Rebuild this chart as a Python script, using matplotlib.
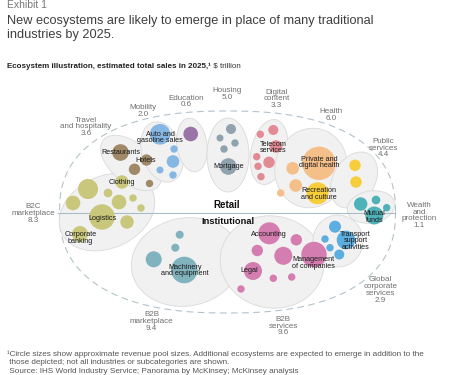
import numpy as np
import matplotlib.pyplot as plt
from matplotlib.patches import Circle, Ellipse

plt.rcParams['font.family'] = ['Liberation Sans', 'DejaVu Sans']

# bubble groups: centre x, centre y (pixels of the 450x375 canvas), radius
b2c_x = [88, 108, 122, 73, 119, 133, 141, 102, 127, 80]
b2c_y = [189, 193, 182, 203, 202, 198, 208, 217, 222, 234]
b2c_r = [10, 4.3, 6.7, 7.3, 7.3, 3.7, 3.7, 12.7, 6.7, 8]

travel_x = [120.5, 146.5, 134.5, 149.5]
travel_y = [152.5, 160, 169.3, 183.5]
travel_r = [8.3, 5.7, 5.7, 3.7]

mobility_x = [160, 174, 173, 160, 173]
mobility_y = [134.3, 149, 161.5, 170, 175]
mobility_r = [10.3, 3.7, 6.3, 3.5, 3.7]

education_x = [190.7]
education_y = [134]
education_r = [7.3]

housing_x = [231, 220, 235, 224, 228.3]
housing_y = [129, 138, 143, 149, 166.5]
housing_r = [5, 3.5, 3.7, 3.7, 8.3]

telecom_x = [273.3, 260.3, 276, 256.7, 269, 258, 261]
telecom_y = [130, 134.3, 146.5, 156.7, 162.3, 166.3, 176.7]
telecom_r = [5, 3.7, 6.3, 3.7, 5.7, 3.7, 3.7]

health_x = [319, 292.7, 295.7, 280.7]
health_y = [163.3, 168.3, 185.5, 193]
health_r = [16.7, 6.3, 6.3, 3.7]

yellow_x = [317.5, 355, 356]
yellow_y = [193.3, 165.3, 182]
yellow_r = [11, 5.7, 5.7]

wealth_x = [360.7, 376, 386.7, 374.3]
wealth_y = [204, 200, 207.7, 215.5]
wealth_r = [6.7, 4.3, 3.7, 9]

transport_x = [335, 325, 330, 339.3, 346]
transport_y = [226.7, 239, 247.7, 254.5, 240]
transport_r = [6, 3.7, 3.7, 5, 9.3]

services_x = [269.3, 296.3, 257.3, 283.3, 314, 253, 273.3, 291.7, 241]
services_y = [233.3, 239.8, 250.5, 255.8, 254.5, 271, 278.3, 277, 289]
services_r = [11, 5.7, 5.7, 9, 12.7, 9, 3.7, 3.7, 3.7]

machinery_x = [179.7, 175.3, 153.7, 184.3]
machinery_y = [234.7, 247.7, 259.3, 270]
machinery_r = [4, 4, 8, 13.3]

groups = [
    (b2c_x, b2c_y, b2c_r, '#c8c77c'),
    (travel_x, travel_y, travel_r, '#a08966'),
    (mobility_x, mobility_y, mobility_r, '#86b7e2'),
    (education_x, education_y, education_r, '#9a73a7'),
    (housing_x, housing_y, housing_r, '#8fa2ad'),
    (telecom_x, telecom_y, telecom_r, '#e28b94'),
    (health_x, health_y, health_r, '#f5bf8a'),
    (yellow_x, yellow_y, yellow_r, '#f7cd3c'),
    (wealth_x, wealth_y, wealth_r, '#4fb2b8'),
    (transport_x, transport_y, transport_r, '#5caee0'),
    (services_x, services_y, services_r, '#d47db1'),
    (machinery_x, machinery_y, machinery_r, '#80b3bd'),
]

ecosystems = ['Travel\nand hospitality\n3.6', 'Mobility\n2.0', 'Education\n0.6', 'Housing\n5.0',
              'Digital\ncontent\n3.3', 'Health\n6.0', 'Public\nservices\n4.4',
              'Wealth\nand\nprotection\n1.1', 'Global\ncorporate\nservices\n2.9',
              'B2B\nservices\n9.6', 'B2B\nmarketplace\n9.4', 'B2C\nmarketplace\n8.3']
eco_pos = [(86, 127), (143, 111), (186, 101.5), (227, 94), (276.7, 99), (330.7, 115),
           (383, 148), (419, 215.5), (380.5, 290), (283.3, 326), (151.7, 321.7), (33.3, 213.3)]

industries = ['Auto and\ngasoline sales', 'Restaurants', 'Hotels', 'Clothing', 'Mortgage',
              'Telecom\nservices', 'Private and\ndigital health', 'Recreation\nand culture',
              'Mutual\nfunds', 'Transport\nsupport\nactivities', 'Accounting',
              'Management\nof companies', 'Legal', 'Logistics', 'Corporate\nbanking',
              'Machinery\nand equipment']
ind_pos = [(160.3, 137.3), (120.7, 152.3), (146, 160), (122, 182), (228.3, 166.3),
           (273.3, 147.7), (319.3, 162.5), (319.3, 194), (374.3, 217), (355.7, 241),
           (268.7, 234.7), (313.7, 263.2), (249.3, 271), (102.3, 218.7), (80.3, 238.2),
           (185, 270.5)]

title_lines = ['New ecosystems are likely to emerge in place of many traditional',
               'industries by 2025.']
note_lines = ['\u00b9Circle sizes show approximate revenue pool sizes. Additional ecosystems are '
              'expected to emerge in addition to the',
              ' those depicted; not all industries or subcategories are shown.',
              ' Source: IHS World Industry Service; Panorama by McKinsey; McKinsey analysis']

# background blobs (cx, cy, width, height, angle)
blobs = [(107, 212, 100, 72, -25), (131, 163, 72, 40, 40), (162, 152, 40, 62, -18),
         (192, 145, 30, 54, -8), (228, 155, 42, 74, 0), (269, 152, 36, 66, 12),
         (311, 168, 72, 80, 15), (354, 180, 42, 60, 30), (371, 207, 48, 32, -10),
         (186, 262, 110, 88, -10), (272, 262, 104, 92, 10), (338, 241, 50, 52, 0)]

fig = plt.figure(figsize=(4.5, 3.75), dpi=100)
ax = fig.add_axes([0, 0, 1, 1])
ax.set_xlim(0, 450)
ax.set_ylim(375, 0)
ax.axis('off')

# dashed outer ring (slightly squared ellipse)
t = np.linspace(0, 2 * np.pi, 400)
n = 2.4
ex = 227.5 + 168 * np.sign(np.cos(t)) * np.abs(np.cos(t)) ** (2 / n)
ey = 212 + 101 * np.sign(np.sin(t)) * np.abs(np.sin(t)) ** (2 / n)
ax.plot(ex, ey, color='#b3c2cb', lw=0.8, ls=(0, (6, 4)), zorder=1)

for cx, cy, w, h, a in blobs:
    ax.add_patch(Ellipse((cx, cy), w, h, angle=a, facecolor='#f1f1f1',
                         edgecolor='#dadada', lw=0.6, zorder=2))

ax.plot([58, 395], [213, 213], color='#a9bdc8', lw=0.8, zorder=3)

for xs, ys, rs, col in groups:
    for x, y, r in zip(xs, ys, rs):
        ax.add_patch(Circle((x, y), r, facecolor=col, edgecolor='none', zorder=4))

for label, (x, y) in zip(ecosystems, eco_pos):
    ax.text(x, y, label, ha='center', va='center', fontsize=5.8, color='#6f6f6f',
            linespacing=0.95, zorder=5)

for label, (x, y) in zip(industries, ind_pos):
    ax.text(x, y, label, ha='center', va='center', fontsize=5.2, color='#1a1a1a',
            linespacing=0.92, zorder=5)

ax.text(227, 205, 'Retail', ha='center', va='center', fontsize=7, fontweight='bold',
        color='#111111', zorder=5)
ax.text(228, 221.5, 'Institutional', ha='center', va='center', fontsize=6.7,
        fontweight='bold', color='#111111', zorder=5)

# titles and notes
ax.text(7, 7.5, 'Exhibit 1', fontsize=7.5, color='#777777', va='baseline')
for i, line in enumerate(title_lines):
    ax.text(7, 24 + i * 13.7, line, fontsize=9.2, color='#3e3e3e', va='baseline')
sub = ax.text(7, 67.7, 'Ecosystem illustration, estimated total sales in 2025,\u00b9',
              fontsize=5.8, fontweight='bold', color='#222222', va='baseline')
ax.annotate(' $ trillion', xycoords=sub, xy=(1, 0), va='bottom', fontsize=5.8,
            color='#333333')
for i, line in enumerate(note_lines):
    ax.text(7, 356 + i * 8.3, line, fontsize=5.9, color='#555555', va='baseline')

fig.savefig('out.png', dpi=100)
